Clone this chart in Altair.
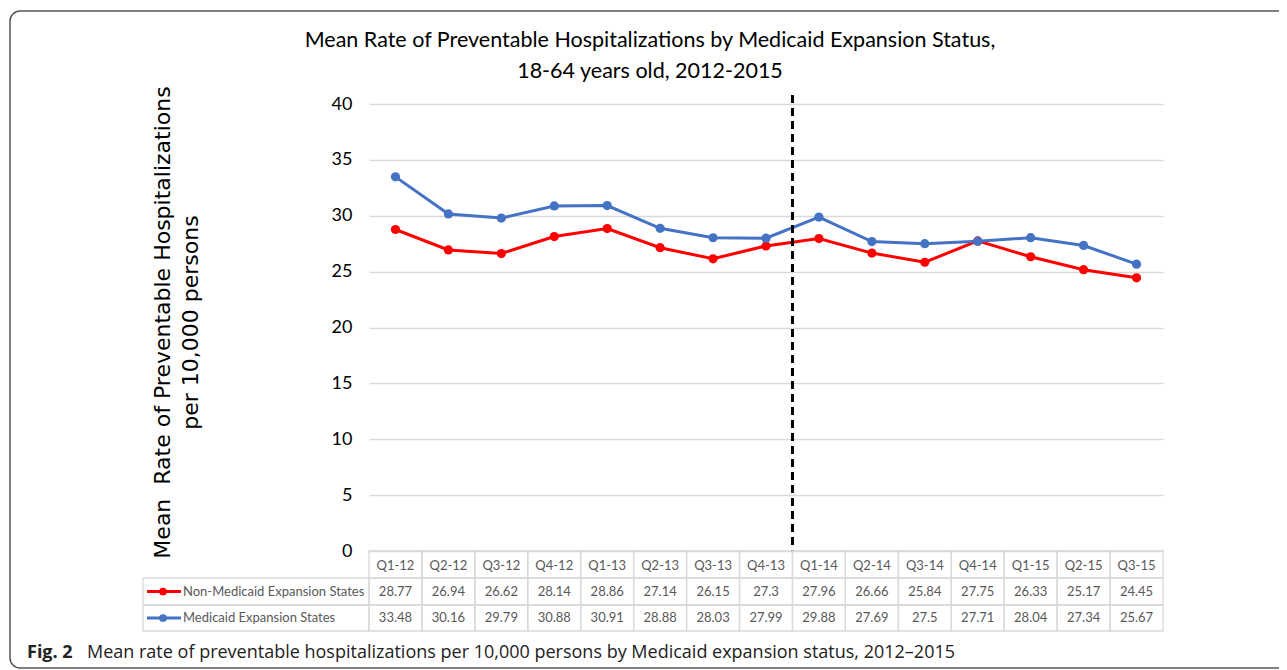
import altair as alt
import pandas as pd

quarters = ["Q1-12", "Q2-12", "Q3-12", "Q4-12", "Q1-13", "Q2-13", "Q3-13", "Q4-13",
            "Q1-14", "Q2-14", "Q3-14", "Q4-14", "Q1-15", "Q2-15", "Q3-15"]
non_expansion = [28.77, 26.94, 26.62, 28.14, 28.86, 27.14, 26.15, 27.3,
                 27.96, 26.66, 25.84, 27.75, 26.33, 25.17, 24.45]
expansion = [33.48, 30.16, 29.79, 30.88, 30.91, 28.88, 28.03, 27.99,
             29.88, 27.69, 27.5, 27.71, 28.04, 27.34, 25.67]
series_names = ["Non-Medicaid Expansion States", "Medicaid Expansion States"]
series_colors = ["#FF0000", "#4472C4"]
value_labels_non = ["28.77", "26.94", "26.62", "28.14", "28.86", "27.14", "26.15", "27.3",
                    "27.96", "26.66", "25.84", "27.75", "26.33", "25.17", "24.45"]
value_labels_exp = ["33.48", "30.16", "29.79", "30.88", "30.91", "28.88", "28.03", "27.99",
                    "29.88", "27.69", "27.5", "27.71", "28.04", "27.34", "25.67"]
y_ticks = [0, 5, 10, 15, 20, 25, 30, 35, 40]
policy_start = "Q1-14"
caption_bold = "Fig. 2"
caption_text = "Mean rate of preventable hospitalizations per 10,000 persons by Medicaid expansion status, 2012\u20132015"
title_lines = ["Mean Rate of Preventable Hospitalizations by Medicaid Expansion Status,",
               "18-64 years old, 2012-2015"]
y_title = ["Mean\u00a0 Rate of Preventable Hospitalizations", "per 10,000 persons"]

W, H = 794, 447
GRID = "#D9D9D9"
TXT = "#595959"
FONT = "Lato"

long_df = pd.DataFrame({
    "quarter": quarters * 2,
    "series": [series_names[0]] * len(quarters) + [series_names[1]] * len(quarters),
    "value": non_expansion + expansion,
})
non_df = pd.DataFrame({"quarter": quarters, "label": value_labels_non})
exp_df = pd.DataFrame({"quarter": quarters, "label": value_labels_exp})
q_df = pd.DataFrame({"quarter": quarters})
one = pd.DataFrame({"k": [0]})
rule_df = pd.DataFrame({"quarter": [policy_start]})
legend_df = pd.DataFrame({"series": series_names, "row": [0, 1]})
title_df = pd.DataFrame({"line": title_lines, "n": [0, 1]})

xscale = alt.Scale(domain=quarters, paddingInner=0, paddingOuter=0)
xaxis = alt.Axis(title=None, orient="bottom", labelAngle=0, ticks=False, domain=False,
                 labelPadding=14, labelBaseline="middle", labelFont=FONT,
                 labelFontSize=13, labelColor=TXT, grid=False)
color = alt.Color("series:N", scale=alt.Scale(domain=series_names, range=series_colors), legend=None)


def xc(band=0.5):
    return alt.X("quarter:N", scale=xscale, sort=quarters, bandPosition=band, axis=xaxis)


x_band = alt.X("quarter:N", scale=xscale, sort=quarters, axis=xaxis)

frame = alt.Chart(one).mark_rect(fillOpacity=0, stroke="#555555", strokeWidth=1.5, cornerRadius=10).encode(
    x=alt.value(-359), x2=alt.value(1000), y=alt.value(-93), y2=alt.value(564))

yenc = alt.Y("value:Q", scale=alt.Scale(domain=[0, 40], nice=False),
             axis=alt.Axis(values=y_ticks, title=y_title, grid=True, gridColor=GRID, gridWidth=1.3,
                           domain=False, ticks=False, labelPadding=17, labelFont=FONT, labelFontSize=18,
                           labelColor="#000000", titleFont="DejaVu Sans", titleFontSize=22,
                           titleFontWeight="normal", titleColor="#000000", titleAngle=-90,
                           titleAlign="center", titleBaseline="top", titleX=-217, titleY=218,
                           titleLineHeight=28))

lines = alt.Chart(long_df).mark_line(strokeWidth=3).encode(x=xc(), y=yenc, color=color, detail="series:N")
points = alt.Chart(long_df).mark_circle(size=85, opacity=1).encode(x=xc(), y="value:Q", color=color)

divider = alt.Chart(rule_df).mark_rule(color="#000000", strokeWidth=3, strokeDash=[8, 5]).encode(
    x=xc(0), y=alt.value(-9), y2=alt.value(H))

rows_y = [(H, H + 27), (H + 27, H + 54), (H + 54, H + 80)]


def cells(r):
    return alt.Chart(q_df).mark_rect(fillOpacity=0, stroke=GRID, strokeWidth=1.3).encode(
        x=x_band, y=alt.value(r[0]), y2=alt.value(r[1]))


row1_text = alt.Chart(non_df).mark_text(font=FONT, fontSize=13, color=TXT, baseline="middle").encode(
    x=xc(), y=alt.value((rows_y[1][0] + rows_y[1][1]) / 2), text="label:N")
row2_text = alt.Chart(exp_df).mark_text(font=FONT, fontSize=13, color=TXT, baseline="middle").encode(
    x=xc(), y=alt.value((rows_y[2][0] + rows_y[2][1]) / 2), text="label:N")

label_cells = [
    alt.Chart(one).mark_rect(fillOpacity=0, stroke=GRID, strokeWidth=1.3).encode(
        x=alt.value(-226), x2=alt.value(0), y=alt.value(r[0]), y2=alt.value(r[1]))
    for r in rows_y[1:]
]

legend_parts = []
for i, name in enumerate(series_names):
    cy = (rows_y[i + 1][0] + rows_y[i + 1][1]) / 2
    sub = legend_df[legend_df["series"] == name]
    legend_parts.append(alt.Chart(sub).mark_rule(strokeWidth=3, color=series_colors[i]).encode(
        x=alt.value(-222), x2=alt.value(-188), y=alt.value(cy)))
    legend_parts.append(alt.Chart(sub).mark_circle(size=60, opacity=1, color=series_colors[i]).encode(
        x=alt.value(-206), y=alt.value(cy)))
    legend_parts.append(alt.Chart(sub).mark_text(font=FONT, fontSize=13, color=TXT, align="left",
                                                 baseline="middle").encode(
        x=alt.value(-186), y=alt.value(cy), text="series:N"))

title_marks = [
    alt.Chart(title_df[title_df["n"] == i]).mark_text(font=FONT, fontSize=21.5, color="#000000",
                                                      align="center", baseline="middle").encode(
        x=alt.value(281), y=alt.value(yy), text="line:N")
    for i, yy in enumerate([-63, -32])
]

cap_df = pd.DataFrame({"b": [caption_bold], "t": [caption_text]})
cap_bold = alt.Chart(cap_df).mark_text(font="Open Sans", fontSize=18, fontWeight="bold", color="#222222",
                                       align="left", baseline="middle").encode(
    x=alt.value(-342), y=alt.value(549), text="b:N")
cap_text = alt.Chart(cap_df).mark_text(font="Open Sans", fontSize=18, color="#222222",
                                       align="left", baseline="middle").encode(
    x=alt.value(-282), y=alt.value(549), text="t:N")

chart = alt.layer(
    frame, lines, points, divider, cells(rows_y[0]), cells(rows_y[1]), cells(rows_y[2]),
    row1_text, row2_text, *label_cells, *legend_parts, *title_marks, cap_bold, cap_text
).properties(
    width=W, height=H,
    autosize=alt.AutoSizeParams(type="none"),
    padding={"left": 361, "top": 96, "right": 116, "bottom": 119},
).configure(background="#FFFFFF").configure_view(stroke="transparent")

chart.save("out.html", embed_options={"renderer": "svg", "actions": False})
